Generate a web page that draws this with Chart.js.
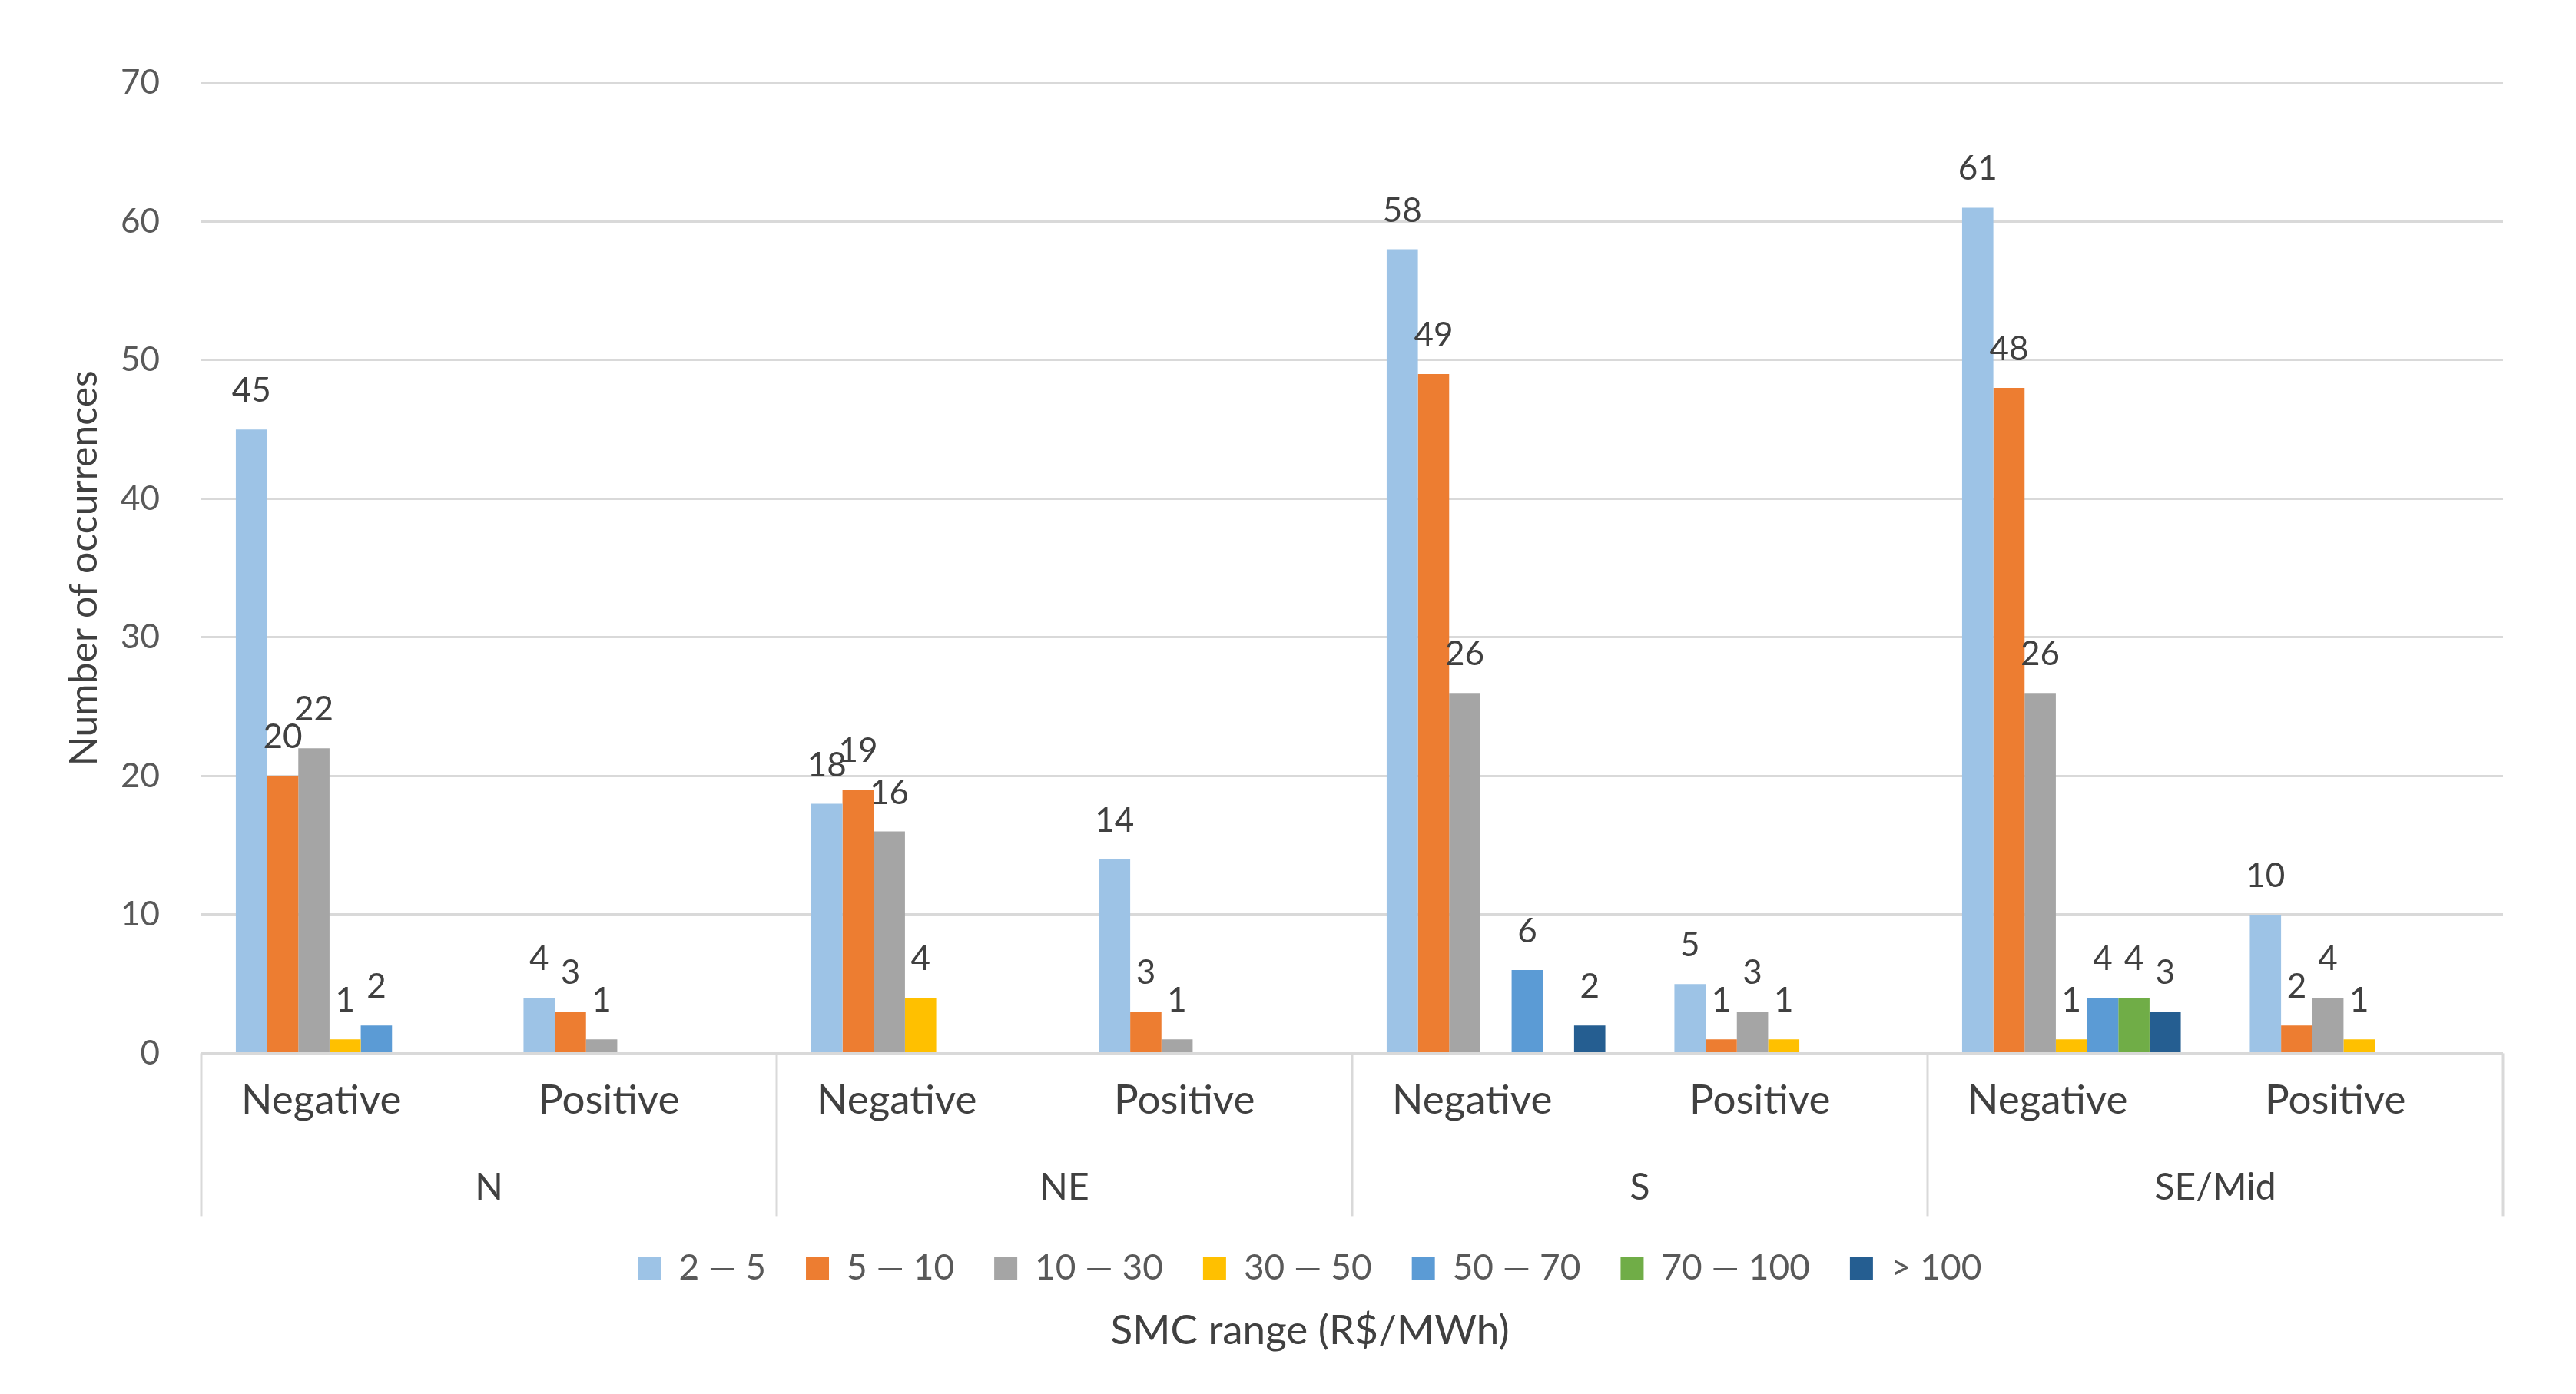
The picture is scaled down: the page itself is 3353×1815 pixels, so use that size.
<!DOCTYPE html>
<html>
<head>
<meta charset="utf-8">
<script src="https://cdn.jsdelivr.net/npm/chart.js@4.4.1/dist/chart.umd.min.js"></script>
<style>
  html, body { margin: 0; padding: 0; background: #fff; }
  #wrap { width: 3353px; height: 1815px; }
</style>
</head>
<body>
<div id="wrap"><canvas id="smcChart"></canvas></div>
<script>
const categories = ['Negative', 'Positive', 'Negative', 'Positive', 'Negative', 'Positive', 'Negative', 'Positive'];
const regions = ['N', 'NE', 'S', 'SE/Mid'];
const yTicks = [0, 10, 20, 30, 40, 50, 60, 70];

const rangeLabels = ['2 \u2014 5', '5 \u2014 10', '10 \u2014 30', '30 \u2014 50', '50 \u2014 70', '70 \u2014 100', '> 100'];
const range2to5    = [45, 4, 18, 14, 58, 5, 61, 10];
const range5to10   = [20, 3, 19, 3, 49, 1, 48, 2];
const range10to30  = [22, 1, 16, 1, 26, 3, 26, 4];
const range30to50  = [1, null, 4, null, null, 1, 1, 1];
const range50to70  = [2, null, null, null, 6, null, 4, null];
const range70to100 = [null, null, null, null, null, null, 4, null];
const rangeOver100 = [null, null, null, null, 2, null, 3, null];

const colors = ['#9dc3e6', '#ed7d31', '#a5a5a5', '#ffc000', '#5b9bd5', '#70ad47', '#255e91'];
const series = [range2to5, range5to10, range10to30, range30to50, range50to70, range70to100, rangeOver100];

const FONT = 'Lato, "Open Sans", sans-serif';

// value labels above each bar
const barLabels = {
    id: 'barLabels',
    afterDatasetsDraw(chart) {
        const ctx = chart.ctx;
        ctx.save();
        ctx.font = '44px ' + FONT;
        ctx.fillStyle = '#404040';
        ctx.textAlign = 'center';
        ctx.textBaseline = 'alphabetic';
        chart.data.datasets.forEach((ds, i) => {
            const meta = chart.getDatasetMeta(i);
            meta.data.forEach((bar, j) => {
                const v = ds.data[j];
                if (v === null || v === undefined) return;
                ctx.fillText(String(v), bar.x, bar.y - 36);
            });
        });
        ctx.restore();
    }
};

// vertical lines between region groups under the axis
const groupLines = {
    id: 'groupLines',
    afterDraw(chart) {
        const x = chart.scales.x;
        const x2 = chart.scales.x2;
        const area = chart.chartArea;
        const ctx = chart.ctx;
        ctx.save();
        ctx.strokeStyle = '#d9d9d9';
        ctx.lineWidth = 3;
        for (let g = 0; g <= regions.length; g++) {
            let px;
            if (g === 0) px = area.left;
            else if (g === regions.length) px = area.right;
            else px = (x.getPixelForValue(2 * g - 1) + x.getPixelForValue(2 * g)) / 2;
            ctx.beginPath();
            ctx.moveTo(px, area.bottom);
            ctx.lineTo(px, x2.bottom + 7);
            ctx.stroke();
        }
        ctx.restore();
    }
};

// legend + axis title sit a bit right of the canvas centre
const shiftBottomBlocks = {
    id: 'shiftBottomBlocks',
    afterLayout(chart) {
        const d = 36;
        [chart.legend, chart.titleBlock].forEach(b => {
            if (!b) return;
            b.left += d;
            b.right += d;
        });
    }
};

new Chart(document.getElementById('smcChart'), {
    type: 'bar',
    data: {
        labels: categories,
        datasets: series.map((vals, i) => ({
            label: rangeLabels[i],
            data: vals,
            backgroundColor: colors[i],
            borderWidth: 0,
            barPercentage: 1,
            categoryPercentage: 0.76
        }))
    },
    options: {
        responsive: true,
        maintainAspectRatio: false,
        devicePixelRatio: 1,
        animation: false,
        layout: { padding: { top: 108, left: 80, right: 95, bottom: 0 } },
        scales: {
            x: {
                type: 'category',
                position: 'bottom',
                grid: { display: false },
                border: { display: false },
                ticks: { color: '#404040', font: { family: FONT, size: 53 }, padding: 22, labelOffset: -31, maxRotation: 0 },
                afterFit(scale) { scale.height = 108; }
            },
            x2: {
                type: 'category',
                position: 'bottom',
                labels: regions,
                offset: true,
                grid: { display: false },
                border: { display: false },
                ticks: { color: '#404040', font: { family: FONT, size: 48 }, padding: 30, maxRotation: 0 },
                afterFit(scale) { scale.height = 97; }
            },
            y: {
                min: yTicks[0],
                max: yTicks[yTicks.length - 1],
                ticks: { stepSize: 10, color: '#595959', font: { family: FONT, size: 44 }, padding: 54 },
                grid: { color: '#d9d9d9', lineWidth: 3, drawTicks: false },
                border: { display: false },
                title: {
                    display: true,
                    text: 'Number of occurrences',
                    color: '#404040',
                    font: { family: FONT, size: 50 },
                    padding: { top: 0, bottom: 0 }
                },
                afterFit(scale) { scale.width = 182; }
            }
        },
        plugins: {
            legend: {
                display: true,
                position: 'bottom',
                labels: {
                    boxWidth: 30,
                    boxHeight: 30,
                    padding: 52,
                    color: '#595959',
                    font: { family: FONT, size: 46 }
                }
            },
            title: {
                display: true,
                position: 'bottom',
                text: 'SMC range (R$/MWh)',
                color: '#404040',
                font: { family: FONT, size: 53, weight: 'normal' },
                padding: { top: 17, bottom: 50 }
            },
            tooltip: { enabled: false }
        }
    },
    plugins: [barLabels, groupLines, shiftBottomBlocks]
});
</script>
</body>
</html>
